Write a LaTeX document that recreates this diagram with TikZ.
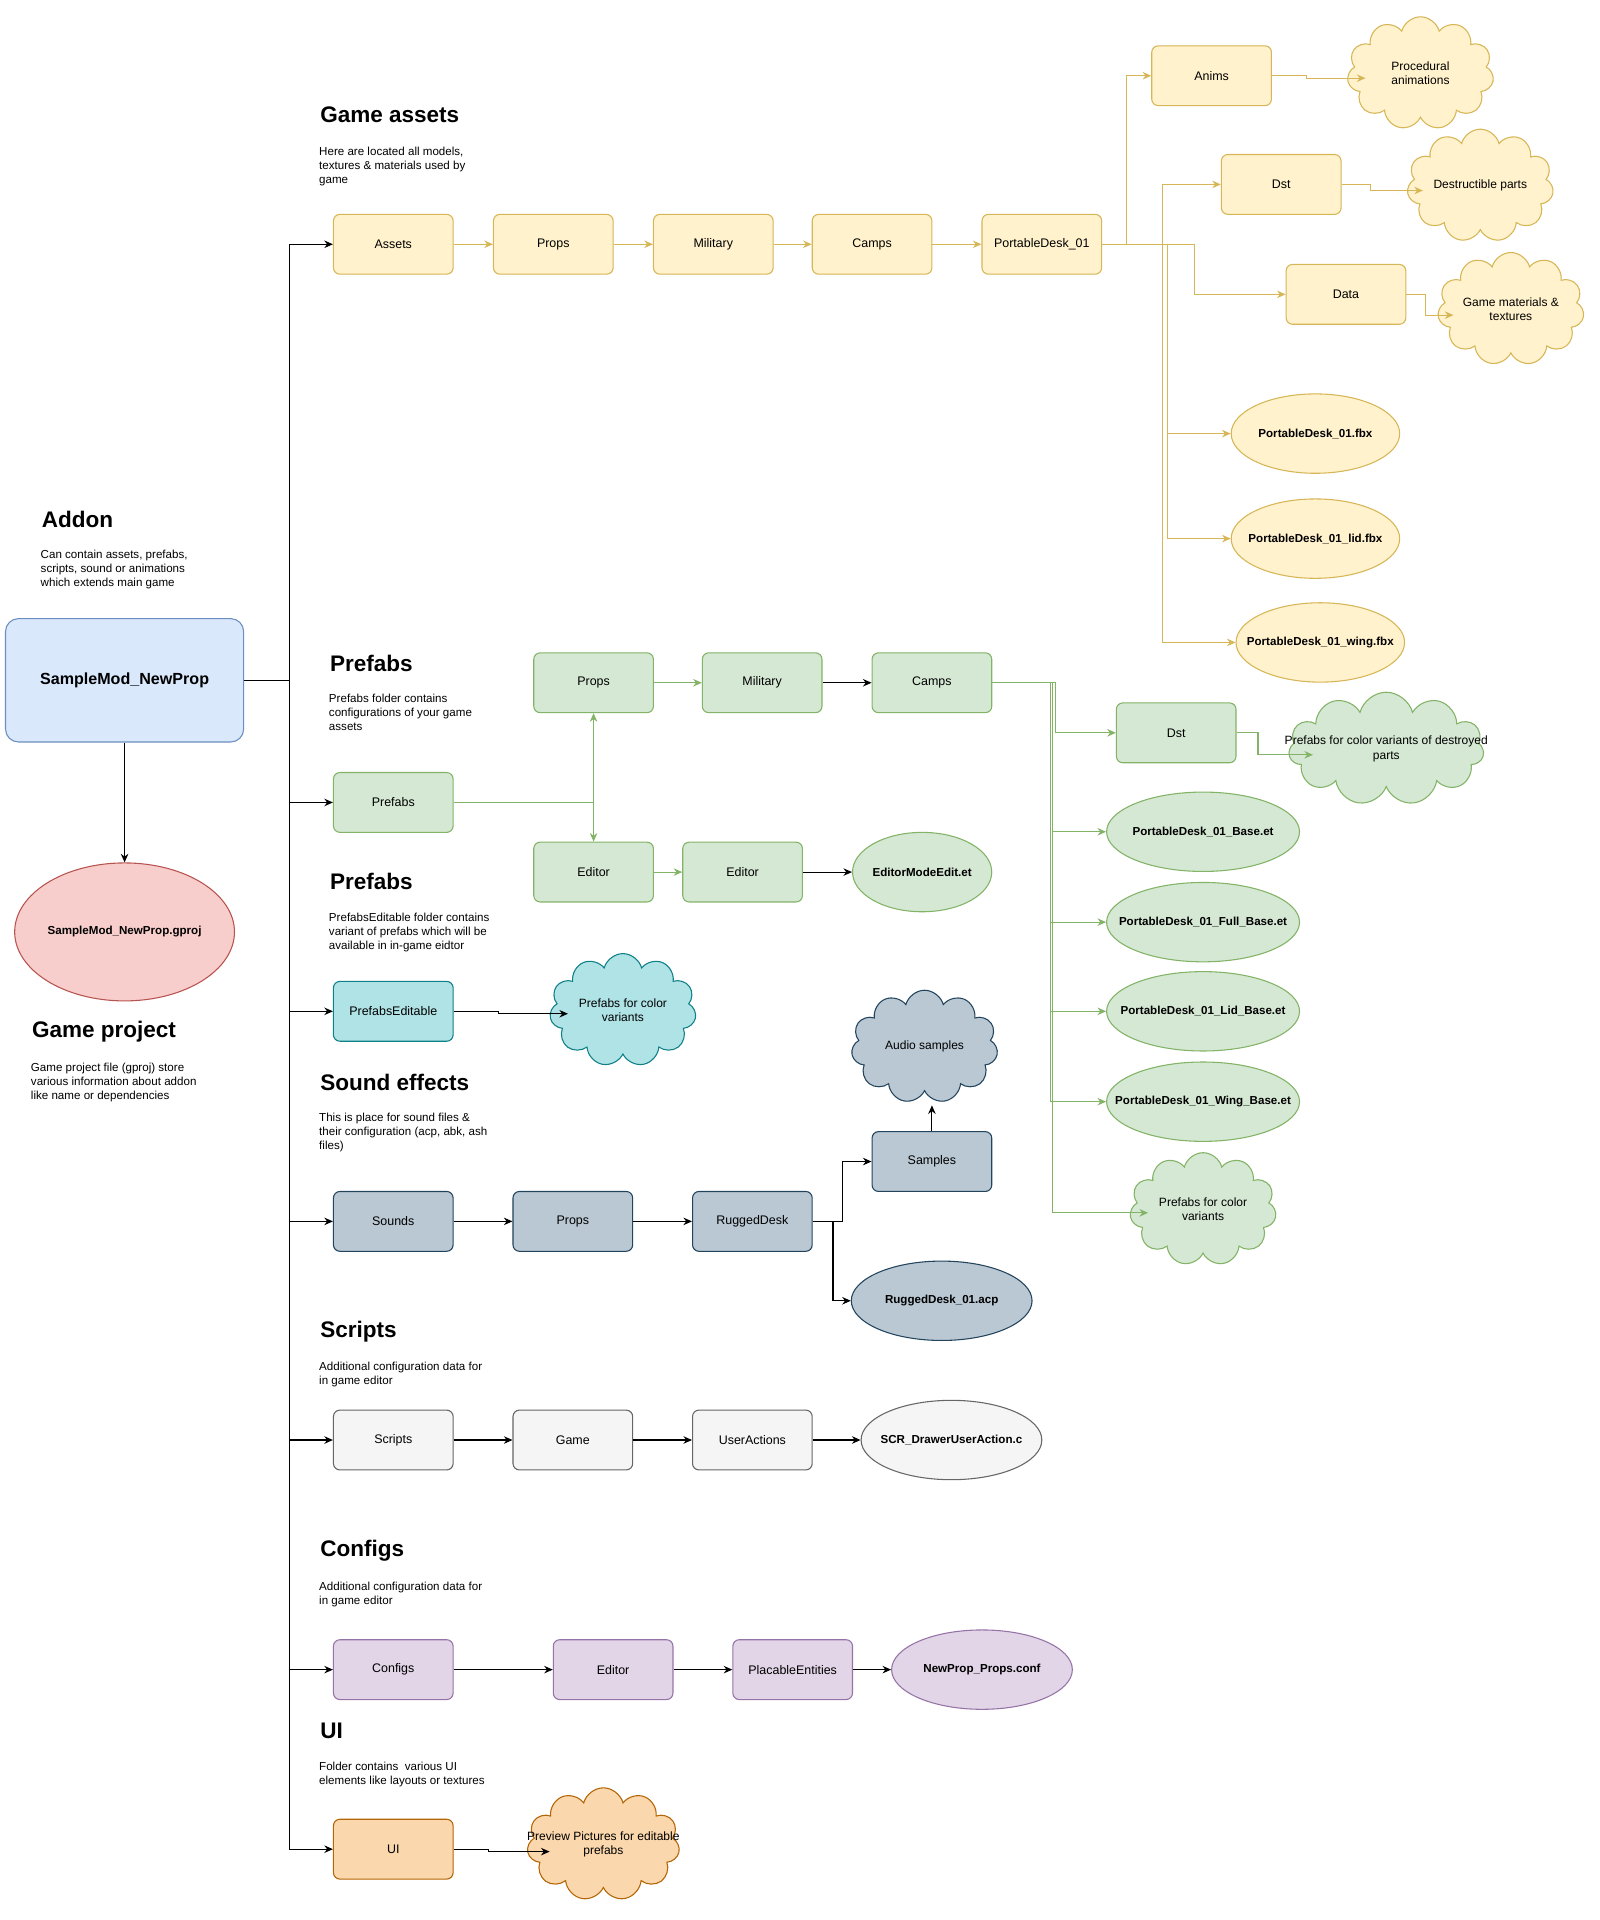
\documentclass[tikz,border=0pt]{standalone}
\usepackage{fontspec}
\setmainfont{Liberation Sans}
\usetikzlibrary{shapes.geometric,shapes.symbols,arrows.meta}
\definecolor{yF}{HTML}{FFF2CC}\definecolor{yD}{HTML}{D6B656}
\definecolor{gF}{HTML}{D5E8D4}\definecolor{gD}{HTML}{82B366}
\definecolor{bF}{HTML}{DAE8FC}\definecolor{bD}{HTML}{6C8EBF}
\definecolor{rF}{HTML}{F8CECC}\definecolor{rD}{HTML}{B85450}
\definecolor{cF}{HTML}{B0E3E6}\definecolor{cD}{HTML}{0E8088}
\definecolor{sF}{HTML}{BAC8D3}\definecolor{sD}{HTML}{23445D}
\definecolor{lF}{HTML}{F5F5F5}\definecolor{lD}{HTML}{666666}
\definecolor{pF}{HTML}{E1D5E7}\definecolor{pD}{HTML}{9673A6}
\definecolor{oF}{HTML}{FAD7AC}\definecolor{oD}{HTML}{B46504}
\tikzset{
 box/.style={rectangle,rounded corners=3pt,minimum width=1.96cm,minimum height=0.98cm,font=\fontsize{5.8}{7}\selectfont,align=center,line width=0.5pt},
 ell/.style={ellipse,minimum width=2.96cm,minimum height=1.3cm,inner sep=0pt,line width=0.5pt},
 cld/.style={cloud,cloud puffs=11,aspect=1.3,minimum width=2.4cm,minimum height=1.85cm,inner sep=0pt,line width=0.5pt},
 el/.style={font=\bfseries\fontsize{5.4}{6.6}\selectfont,align=center,inner sep=0pt},
 cl/.style={font=\fontsize{5.6}{6.8}\selectfont,align=center,inner sep=0pt},
 Y/.style={fill=yF,draw=yD},G/.style={fill=gF,draw=gD},S/.style={fill=sF,draw=sD},
 L/.style={fill=lF,draw=lD},P/.style={fill=pF,draw=pD},
 ttl/.style={anchor=west,font=\bfseries\fontsize{10.5}{12}\selectfont},
 dsc/.style={anchor=north west,align=left,font=\fontsize{5.4}{6.6}\selectfont,inner sep=0pt},
 ar/.style={-{Stealth[length=4pt,width=3.5pt]},line width=0.5pt},
 ya/.style={ar,draw=yD},ga/.style={ar,draw=gD},
}
\begin{document}
\begin{tikzpicture}[x=0.02cm,y=-0.02cm]
\useasboundingbox (0,0) rectangle (1310,1572);
% left
\node[box,fill=bF,draw=bD,rounded corners=6pt,minimum width=3.9cm,minimum height=2.02cm,font=\bfseries\fontsize{7.5}{9}\selectfont] (main) at (102,557) {SampleMod\_NewProp};
\node[ell,fill=rF,draw=rD,minimum width=3.6cm,minimum height=2.26cm] (gproj) at (102,763) {};
\node[el] (gprojT) at (gproj) {SampleMod\_NewProp.gproj};
\draw[ar] (main) -- (gproj);
\node[ttl] (t0) at (28,425) {Addon};
\node[dsc] (d0) at (33,450) {Can contain assets, prefabs,\\scripts, sound or animations\\which extends main game};
\node[ttl] (t1) at (20,845) {Game project};
\node[dsc] (d1) at (25,870) {Game project file (gproj) store\\various information about addon\\like name or dependencies};
% bus
\coordinate (b0) at (237,557);
\coordinate (bt) at (237,200);
\coordinate (bb) at (237,1514);
\draw[line width=0.5pt] (main.east) -- (b0);
\draw[line width=0.5pt] (bt) -- (bb);
% Game assets
\node[ttl] (t2) at (256,94) {Game assets};
\node[dsc] (d2) at (261,120) {Here are located all models,\\textures \& materials used by\\game};
\node[box,Y] (a1) at (322,200) {Assets};
\node[box,Y] (a2) at (453,200) {Props};
\node[box,Y] (a3) at (584,200) {Military};
\node[box,Y] (a4) at (714,200) {Camps};
\node[box,Y] (a5) at (853,200) {PortableDesk\_01};
\draw[ar] (bt) -- (a1);
\draw[ya] (a1)--(a2); \draw[ya] (a2)--(a3); \draw[ya] (a3)--(a4); \draw[ya] (a4)--(a5);
\node[box,Y] (an) at (992,62) {Anims};
\node[box,Y] (ds) at (1049,151) {Dst};
\node[box,Y] (da) at (1102,241) {Data};
\node[cld,Y] (c1) at (1163,60) {}; \node[cl] at (c1) {Procedural\\animations};
\node[cld,Y] (c2) at (1212,152) {}; \node[cl] at (c2) {Destructible parts};
\node[cld,Y] (c3) at (1237,253) {}; \node[cl] at (c3) {Game materials \&\\textures};
\node[ell,Y,minimum width=2.76cm] (e1) at (1077,355) {}; \node[el] at (e1) {PortableDesk\_01.fbx};
\node[ell,Y,minimum width=2.76cm] (e2) at (1077,441) {}; \node[el] at (e2) {PortableDesk\_01\_lid.fbx};
\node[ell,Y,minimum width=2.76cm] (e3) at (1081,526) {}; \node[el] at (e3) {PortableDesk\_01\_wing.fbx};
\draw[ya] (a5.east) -| (922,62) -- (an.west);
\draw[ya] (a5.east) -| (952,151) -- (ds.west);
\draw[ya] (a5.east) -| (978,241) -- (da.west);
\draw[ya] (a5.east) -| (956,355) -- (e1.west);
\draw[ya] (a5.east) -| (956,441) -- (e2.west);
\draw[ya] (a5.east) -| (952,526) -- (e3.west);
\draw[ya] (an.east) -- (1070,62) -- (1070,64) -- (1118,64);
\draw[ya] (ds.east) -- (1122,151) -- (1122,156) -- (1165,156);
\draw[ya] (da.east) -- (1167,241) -- (1167,258) -- (1190,258);
% Prefabs
\node[ttl] (t3) at (264,543) {Prefabs};
\node[dsc] (d3) at (269,568) {Prefabs folder contains\\configurations of your game\\assets};
\node[box,G] (p0) at (322,657) {Prefabs};
\node[box,G] (p1) at (486,559) {Props};
\node[box,G] (p2) at (624,559) {Military};
\node[box,G] (p3) at (763,559) {Camps};
\node[box,G] (p4) at (486,714) {Editor};
\node[box,G] (p5) at (608,714) {Editor};
\node[ell,G,minimum width=2.28cm] (pe) at (755,714) {}; \node[el] at (pe) {EditorModeEdit.et};
\draw[ar] (237,657) -- (p0);
\draw[ga] (p0.east) -- (486,657) -- (p1.south);
\draw[ga] (486,657) -- (p4.north);
\draw[ga] (p1)--(p2); \draw[ar] (p2)--(p3);
\draw[ga] (p4)--(p5); \draw[ar] (p5)--(pe);
\node[box,G] (pd) at (963,600) {Dst};
\node[cld,G,minimum width=3.2cm,aspect=1.7] (pc1) at (1135,613) {}; \node[cl] at (pc1) {Prefabs for color variants of destroyed\\parts};
\node[ell,G,minimum width=3.16cm] (f1) at (985,681) {}; \node[el] at (f1) {PortableDesk\_01\_Base.et};
\node[ell,G,minimum width=3.16cm] (f2) at (985,755) {}; \node[el] at (f2) {PortableDesk\_01\_Full\_Base.et};
\node[ell,G,minimum width=3.16cm] (f3) at (985,828) {}; \node[el] at (f3) {PortableDesk\_01\_Lid\_Base.et};
\node[ell,G,minimum width=3.16cm] (f4) at (985,902) {}; \node[el] at (f4) {PortableDesk\_01\_Wing\_Base.et};
\node[cld,G] (pc2) at (985,990) {}; \node[cl] at (pc2) {Prefabs for color\\variants};
\draw[ga] (p3.east) -| (864,600) -- (pd.west);
\draw[ga] (p3.east) -| (862,681) -- (f1.west);
\draw[ga] (p3.east) -| (860,755) -- (f2.west);
\draw[ga] (p3.east) -| (860,828) -- (f3.west);
\draw[ga] (p3.east) -| (860,902) -- (f4.west);
\draw[ga] (p3.east) -| (862,993) -- (940,993);
\draw[ga] (pd.east) -- (1030,600) -- (1030,618) -- (1075,618);
% PrefabsEditable
\node[ttl] (t4) at (264,722) {Prefabs};
\node[dsc] (d4) at (269,747) {PrefabsEditable folder contains\\variant of prefabs which will be\\available in in-game eidtor};
\node[box,fill=cF,draw=cD] (pf) at (322,828) {PrefabsEditable};
\node[cld,fill=cF,draw=cD] (pfc) at (510,827) {}; \node[cl] at (pfc) {Prefabs for color\\variants};
\draw[ar] (237,828) -- (pf);
\draw[ar] (pf.east) -- (408,828) -- (408,830) -- (465,830);
% Sound
\node[ttl] (t5) at (256,886) {Sound effects};
\node[dsc] (d5) at (261,911) {This is place for sound files \&\\their configuration (acp, abk, ash\\files)};
\node[box,S] (s1) at (322,1000) {Sounds};
\node[box,S] (s2) at (469,1000) {Props};
\node[box,S] (s3) at (616,1000) {RuggedDesk};
\node[box,S] (s4) at (763,951) {Samples};
\node[cld,S] (sc) at (757,857) {}; \node[cl] at (sc) {Audio samples};
\node[ell,S,minimum width=2.96cm] (se) at (771,1065) {}; \node[el] at (se) {RuggedDesk\_01.acp};
\draw[ar] (237,1000) -- (s1);
\draw[ar] (s1)--(s2); \draw[ar] (s2)--(s3);
\draw[ar] (s3.east) -- (690,1000) |- (s4.west);
\draw[ar] (s3.east) -- (682,1000) |- (se.west);
\draw[ar] (s4.north) -- (763,905);
% Scripts
\node[ttl] (t6) at (256,1090) {Scripts};
\node[dsc] (d6) at (261,1115) {Additional configuration data for\\in game editor};
\node[box,L] (r1) at (322,1179) {Scripts};
\node[box,L] (r2) at (469,1179) {Game};
\node[box,L] (r3) at (616,1179) {UserActions};
\node[ell,L] (re) at (779,1179) {}; \node[el] at (re) {SCR\_DrawerUserAction.c};
\draw[ar] (237,1179) -- (r1);
\draw[ar] (r1)--(r2); \draw[ar] (r2)--(r3); \draw[ar] (r3)--(re);
% Configs
\node[ttl] (t7) at (256,1270) {Configs};
\node[dsc] (d7) at (261,1295) {Additional configuration data for\\in game editor};
\node[box,P] (q1) at (322,1367) {Configs};
\node[box,P] (q2) at (502,1367) {Editor};
\node[box,P] (q3) at (649,1367) {PlacableEntities};
\node[ell,P] (qe) at (804,1367) {}; \node[el] at (qe) {NewProp\_Props.conf};
\draw[ar] (237,1367) -- (q1);
\draw[ar] (q1)--(q2); \draw[ar] (q2)--(q3); \draw[ar] (q3)--(qe);
% UI
\node[ttl] (t8) at (256,1417) {UI};
\node[dsc] (d8) at (261,1442) {Folder contains\ \ various UI\\elements like layouts or textures};
\node[box,fill=oF,draw=oD] (u1) at (322,1514) {UI};
\node[cld,fill=oF,draw=oD,minimum width=2.5cm] (uc) at (494,1510) {}; \node[cl] at (uc) {Preview Pictures for editable\\prefabs};
\draw[ar] (bb) -- (u1);
\draw[ar] (u1.east) -- (400,1514) -- (400,1516) -- (450,1516);
\end{tikzpicture}
\end{document}
